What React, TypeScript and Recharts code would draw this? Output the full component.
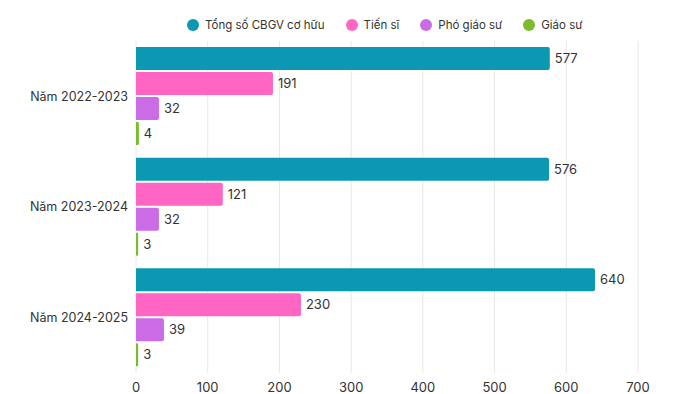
import { Bar, BarChart, CartesianGrid, LabelList, XAxis, YAxis } from 'recharts'

const years = ['Năm 2022-2023', 'Năm 2023-2024', 'Năm 2024-2025']
const tongSo = [577, 576, 640]
const tienSi = [191, 121, 230]
const phoGiaoSu = [32, 32, 39]
const giaoSu = [4, 3, 3]
const xTicks = [0, 100, 200, 300, 400, 500, 600, 700]

const series = [
  { key: 'tongSo', name: 'Tổng số CBGV cơ hữu', color: '#0b98b3' },
  { key: 'tienSi', name: 'Tiến sĩ', color: '#ff66c4' },
  { key: 'phoGiaoSu', name: 'Phó giáo sư', color: '#cb6ce6' },
  { key: 'giaoSu', name: 'Giáo sư', color: '#7cba2e' },
]

const data = years.map((year, i) => ({
  year,
  tongSo: tongSo[i],
  tienSi: tienSi[i],
  phoGiaoSu: phoGiaoSu[i],
  giaoSu: giaoSu[i],
}))

const font = 'Inter, "Noto Sans", sans-serif'

// legend drawn as an overlay so it doesn't push the plot down
function ChartLegend() {
  return (
    <div
      style={{
        position: 'absolute',
        top: 16,
        left: 187,
        display: 'flex',
        gap: 21,
        fontFamily: font,
        fontSize: 11.5,
        color: '#333',
        lineHeight: '18px',
      }}
    >
      {series.map((s) => (
        <div key={s.key} style={{ display: 'flex', alignItems: 'center', gap: 6 }}>
          <span
            style={{ width: 12, height: 12, borderRadius: '50%', background: s.color, display: 'inline-block' }}
          />
          <span>{s.name}</span>
        </div>
      ))}
    </div>
  )
}

export default function App() {
  return (
    <div style={{ position: 'fixed', top: 0, left: 0, width: 700, height: 394, background: '#fff' }}>
      <BarChart
        width={700}
        height={394}
        data={data}
        layout="vertical"
        margin={{ top: 41, right: 62, left: 0, bottom: 1 }}
        barSize={23}
        barGap={2}
      >
        <CartesianGrid horizontal={false} stroke="#e8e8e8" />
        <XAxis
          type="number"
          domain={[0, 700]}
          ticks={xTicks}
          axisLine={false}
          tickLine={false}
          height={20}
          tickMargin={4}
          tick={{ fontSize: 13, fill: '#333', fontFamily: font }}
        />
        <YAxis
          type="category"
          dataKey="year"
          width={136}
          axisLine={false}
          tickLine={false}
          tickMargin={2}
          tick={{ fontSize: 12.5, fill: '#333', fontFamily: font }}
        />
        {series.map((s) => (
          <Bar key={s.key} dataKey={s.key} name={s.name} fill={s.color} radius={[0, 2, 2, 0]} isAnimationActive={false}>
            <LabelList
              dataKey={s.key}
              position="right"
              offset={5}
              style={{ fontSize: 13, fill: '#333', fontFamily: font }}
            />
          </Bar>
        ))}
      </BarChart>
      <ChartLegend />
    </div>
  )
}
